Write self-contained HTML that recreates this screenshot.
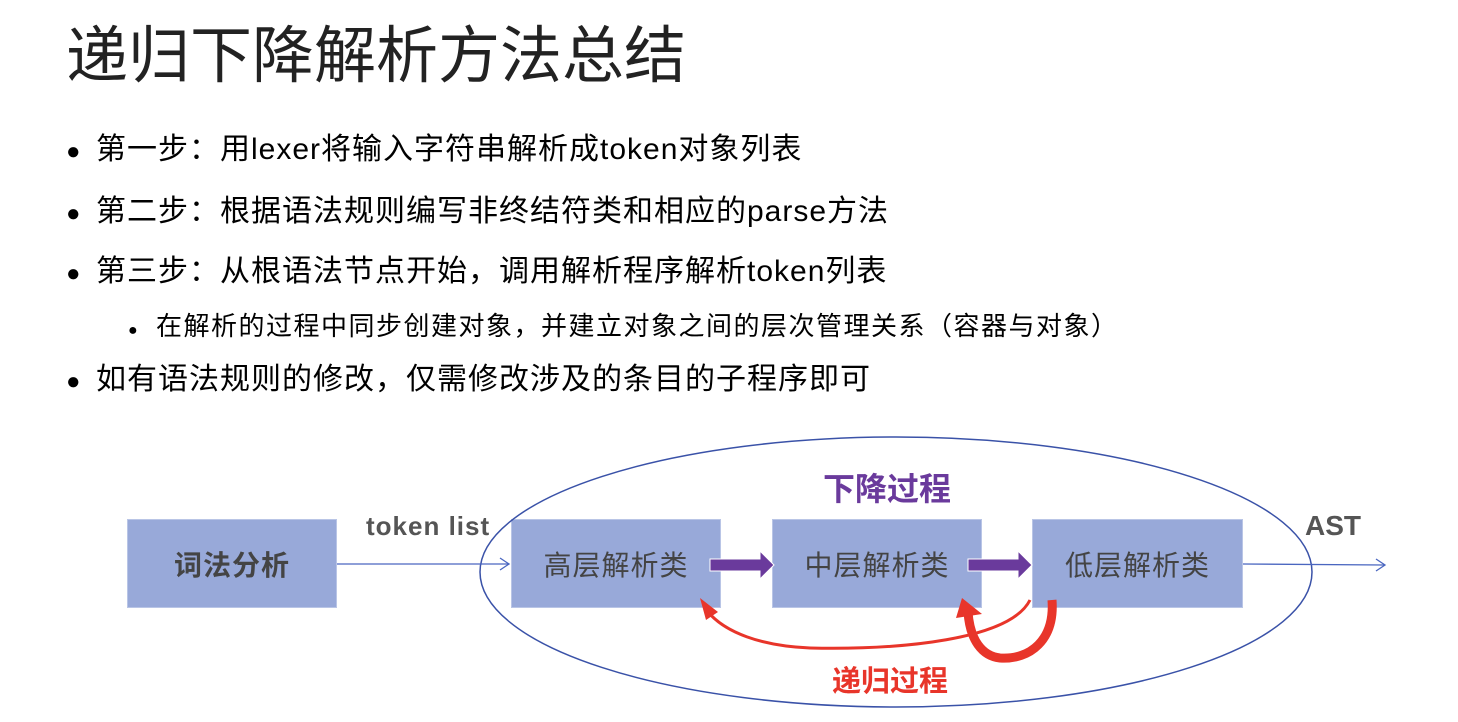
<!DOCTYPE html>
<html><head><meta charset="utf-8"><style>
body{margin:0;width:1458px;height:722px;background:#fff;position:relative;overflow:hidden;font-family:"Liberation Sans","Noto Sans CJK SC",sans-serif;color:#000}
.t{position:absolute;white-space:nowrap}
.h{left:66px;top:5px;font-size:62px;color:#222}
.b{font-size:30px;left:66px;letter-spacing:1px}
.b span.d{display:inline-block;width:30px;font-size:24px;letter-spacing:0}
.s{font-size:26px;left:128px;letter-spacing:1.5px}
.box{position:absolute;background:#98a9d9;border:1px solid #b9c5e6;box-sizing:border-box;display:flex;align-items:center;justify-content:center;font-size:28px;letter-spacing:1px;color:#444}
</style></head><body>
<div class="t h">递归下降解析方法总结</div>
<div class="t b" style="top:124px"><span class="d">●</span>第一步：用lexer将输入字符串解析成token对象列表</div>
<div class="t b" style="top:186px"><span class="d">●</span>第二步：根据语法规则编写非终结符类和相应的parse方法</div>
<div class="t b" style="top:246px"><span class="d">●</span>第三步：从根语法节点开始，调用解析程序解析token列表</div>
<div class="t s" style="top:306px"><span style="display:inline-block;width:28px;font-size:16px;letter-spacing:0">●</span>在解析的过程中同步创建对象，并建立对象之间的层次管理关系（容器与对象）</div>
<div class="t b" style="top:354px"><span class="d">●</span>如有语法规则的修改，仅需修改涉及的条目的子程序即可</div>

<div class="box" style="left:127px;top:519px;width:210px;height:89px;font-weight:bold">词法分析</div>
<div class="box" style="left:511px;top:519px;width:210px;height:89px">高层解析类</div>
<div class="box" style="left:772px;top:519px;width:210px;height:89px">中层解析类</div>
<div class="box" style="left:1032px;top:519px;width:211px;height:89px">低层解析类</div>

<svg width="1458" height="722" style="position:absolute;left:0;top:0">
<ellipse cx="896" cy="572" rx="416" ry="135" fill="none" stroke="#3a52a8" stroke-width="1.5"/>
<line x1="337" y1="564" x2="508" y2="564" stroke="#4a66c0" stroke-width="1.3"/>
<path d="M500,558 L509,564 L500,570" fill="none" stroke="#4a66c0" stroke-width="1.3"/>
<line x1="1243" y1="564" x2="1384" y2="565" stroke="#4a66c0" stroke-width="1.3"/>
<path d="M1376,559 L1385,565 L1376,571" fill="none" stroke="#4a66c0" stroke-width="1.3"/>
<path d="M710,559 L760,559 L760,551 L774,565 L760,579 L760,571 L710,571Z" fill="#6a3a9c" stroke="#fff" stroke-width="1"/>
<path d="M968,559 L1018,559 L1018,551 L1032,565 L1018,579 L1018,571 L968,571Z" fill="#6a3a9c" stroke="#fff" stroke-width="1"/>
<path d="M1030,600 C1010,640 900,650 810,648 C760,646 725,632 708,612" fill="none" stroke="#e8352a" stroke-width="3"/>
<path d="M700,598 L718,612 L706,620Z" fill="#e8352a"/>
<path d="M1052,600 C1055,640 1030,660 1000,658 C982,656 970,640 968,612" fill="none" stroke="#e8352a" stroke-width="9"/>
<path d="M962,598 L956,618 L982,614Z" fill="#e8352a"/>
</svg>

<div class="t" style="left:366px;top:511px;font-size:26px;letter-spacing:1px;font-weight:bold;color:#555">token list</div>
<div class="t" style="left:1305px;top:510px;font-size:28px;font-weight:bold;color:#555">AST</div>
<div class="t" style="left:823px;top:464px;font-size:32px;font-weight:bold;color:#6a3a9c">下降过程</div>
<div class="t" style="left:832px;top:658px;font-size:29px;font-weight:bold;color:#e8352a">递归过程</div>
</body></html>
